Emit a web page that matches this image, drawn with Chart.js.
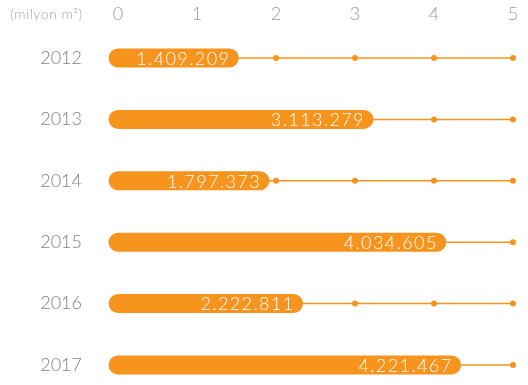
<!DOCTYPE html>
<html>
<head>
<meta charset="utf-8">
<script src="https://cdn.jsdelivr.net/npm/chart.js@4/dist/chart.umd.min.js"></script>
<style>
  html, body { margin: 0; padding: 0; background: #fff; }
  #wrap { width: 528px; height: 385px; position: relative; }
</style>
</head>
<body>
<div id="wrap"><canvas id="c"></canvas></div>
<script>
// Yearly area (m²), shown on a scale in millions
const years = ['2012', '2013', '2014', '2015', '2016', '2017'];
const areas = [1409209, 3113279, 1797373, 4034605, 2222811, 4221467];
const axisTicks = [0, 1, 2, 3, 4, 5];
const unitLabel = '(milyon m²)';

const ORANGE = '#F7941D';
const FONT = 'Lato, "Open Sans", sans-serif';

const fmt = n => String(n).replace(/\B(?=(\d{3})+(?!\d))/g, '.');
const millions = areas.map(a => a / 1e6);

// thick round-capped bar from 0 to the value
const barSets = years.map((y, i) => ({
  data: [{ x: 0, y }, { x: millions[i], y }],
  showLine: true,
  borderColor: ORANGE,
  borderWidth: 19,
  borderCapStyle: 'round',
  pointRadius: 0,
  pointHoverRadius: 0,
  clip: false,
  valueText: fmt(areas[i])
}));

// thin track to the end of the scale, dotted at every tick
const trackSets = years.map(y => ({
  data: axisTicks.map(t => ({ x: t, y })),
  showLine: true,
  borderColor: ORANGE,
  borderWidth: 1.5,
  pointRadius: 3,
  pointHoverRadius: 3,
  pointBackgroundColor: ORANGE,
  pointBorderWidth: 0,
  clip: false
}));

const valueLabels = {
  id: 'valueLabels',
  afterDatasetsDraw(chart) {
    const ctx = chart.ctx;
    ctx.save();
    ctx.fillStyle = '#ffffff';
    ctx.font = '300 18px ' + FONT;
    ctx.textAlign = 'right';
    ctx.textBaseline = 'middle';
    ctx.letterSpacing = '1.4px';
    chart.data.datasets.forEach((ds, i) => {
      if (!ds.valueText) return;
      const end = chart.getDatasetMeta(i).data[1];
      ctx.fillText(ds.valueText, end.x + 1, end.y + 1);
    });
    ctx.restore();
  },
  afterDraw(chart) {
    const ctx = chart.ctx;
    const ys = chart.scales.y;
    ctx.save();
    ctx.fillStyle = '#a3a3a3';
    ctx.font = '300 14px ' + FONT;
    ctx.textAlign = 'right';
    ctx.textBaseline = 'middle';
    ctx.letterSpacing = '0.5px';
    ctx.fillText(unitLabel, ys.right - 35.5, chart.chartArea.top - 44);
    ctx.restore();
  }
};

new Chart(document.getElementById('c'), {
  type: 'scatter',
  data: { datasets: [...barSets, ...trackSets] },
  plugins: [valueLabels],
  options: {
    responsive: true,
    maintainAspectRatio: false,
    animation: false,
    events: [],
    layout: { autoPadding: false, padding: { top: 0, right: 15, left: 0, bottom: 20 } },
    plugins: { legend: { display: false }, tooltip: { enabled: false } },
    scales: {
      x: {
        type: 'linear',
        position: 'top',
        min: 0,
        max: 5,
        ticks: {
          stepSize: 1,
          color: '#9b9b9b',
          font: { family: FONT, size: 18, weight: 300 },
          padding: 0
        },
        grid: { display: false, drawTicks: true, tickLength: 33 },
        border: { display: false },
        afterFit: s => { s.height = 58; }
      },
      y: {
        type: 'category',
        labels: years,
        offset: false,
        reverse: false,
        ticks: {
          color: '#808080',
          font: { family: FONT, size: 18, weight: 300 },
          padding: 0
        },
        grid: { display: false, drawTicks: true, tickLength: 36 },
        border: { display: false },
        afterFit: s => { s.width = 118; }
      }
    }
  }
});
</script>
</body>
</html>
